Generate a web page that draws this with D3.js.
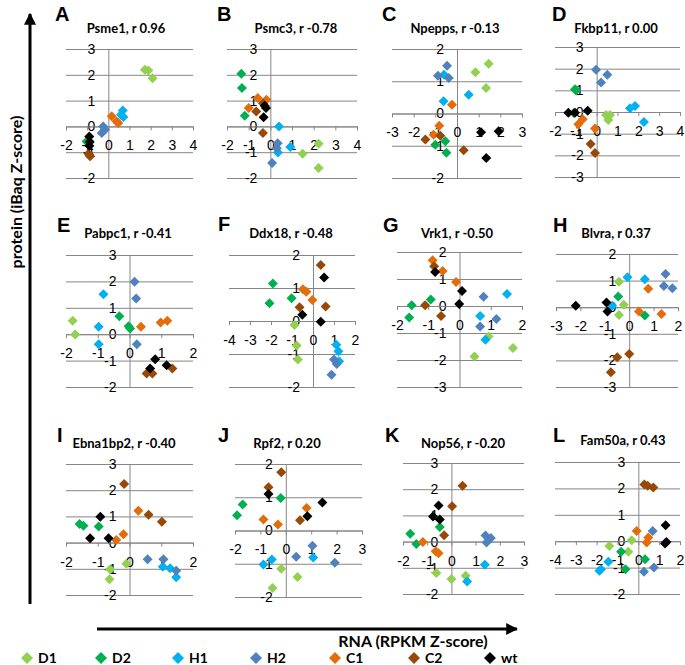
<!DOCTYPE html>
<html><head><meta charset="utf-8">
<script src="https://cdnjs.cloudflare.com/ajax/libs/d3/7.8.5/d3.min.js"></script>
<style>
body{margin:0;background:#fff;}
svg{display:block;font-family:Lato,"Open Sans",sans-serif;}
</style></head>
<body><svg id="c" width="685" height="665"></svg>
<script>
// ---- data ----
const series = ["D1","D2","H1","H2","C1","C2","wt"];
const letters = ["A","B","C","D","E","F","G","H","I","J","K","L"];
const titles = ["Psme1, r 0.96","Psmc3, r -0.78","Npepps, r -0.13","Fkbp11, r 0.00",
  "Pabpc1, r -0.41","Ddx18, r -0.48","Vrk1, r -0.50","Blvra, r 0.37",
  "Ebna1bp2, r -0.40","Rpf2, r 0.20","Nop56, r -0.20","Fam50a, r 0.43"];
const xDomains = [[-2,4],[-2,4],[-3,3],[-2,4],[-2,2],[-4,2],[-2,2],[-3,2],[-2,2],[-2,3],[-2,3],[-4,2]];
const yDomains = [[-2,3],[-2,3],[-2,2],[-3,3],[-2,3],[-2,2],[-3,2],[-3,2],[-2,3],[-2,2],[-2,3],[-2,3]];
const axisLabelY = "protein (iBaq Z-score)";
const axisLabelX = "RNA (RPKM Z-score)";

const dataA = [["D1",1.73,2.2],["D1",1.89,2.17],["D1",2.09,1.87],
 ["D2",-1.02,-0.58],["D2",-0.98,-0.62],["D2",-0.92,-0.56],
 ["H1",0.68,0.62],["H1",0.71,0.36],["H1",0.6,0.45],
 ["H2",-0.24,0.0],["H2",-0.31,-0.26],["H2",-0.16,-0.13],
 ["C1",0.16,0.39],["C1",0.39,0.19],["C1",0.47,0.13],
 ["C2",-0.94,-1.06],["C2",-0.86,-1.16],["C2",-0.9,-1.1],
 ["wt",-0.9,-0.39],["wt",-0.9,-0.75],["wt",-0.88,-0.6]];
const dataB = [["D1",2.23,-0.67],["D1",1.49,-1.06],["D1",2.23,-1.61],
 ["D2",-1.34,2.04],["D2",-1.31,1.49],["D2",-1.18,0.41],
 ["H1",0.4,0.0],["H1",0.92,-0.8],["H1",0.35,-1.01],
 ["H2",0.34,-0.65],["H2",0.08,-1.42],["H2",0.3,-0.85],
 ["C1",-0.58,1.1],["C1",-1.0,0.71],["C1",-0.18,1.03],
 ["C2",-0.65,0.58],["C2",-0.34,0.9],["C2",-0.34,-0.26],
 ["wt",-0.26,0.8],["wt",-0.2,0.71],["wt",-0.31,0.35]];
const dataC = [["D1",0.85,1.28],["D1",1.46,1.54],["D1",1.34,0.79],
 ["D2",-1.0,-0.97],["D2",-0.54,-0.86],["D2",-0.49,-1.22],
 ["H1",-0.6,1.2],["H1",-0.62,0.38],["H1",0.54,0.58],
 ["H2",-0.46,1.48],["H2",-0.88,1.17],["H2",-0.38,1.1],
 ["C1",-0.23,0.27],["C1",-0.82,-0.38],["C1",-1.08,-0.66],
 ["C2",-1.46,-0.81],["C2",-0.77,-0.69],["C2",0.31,-1.14],
 ["wt",1.11,-0.58],["wt",1.92,-0.55],["wt",1.35,-1.38]];
const dataD = [["D1",0.45,-0.14],["D1",0.64,-0.14],["D1",0.56,-0.37],
 ["D2",-1.04,1.05],["D2",-0.99,0.99],["D2",-1.1,-0.05],
 ["H1",1.6,0.17],["H1",1.84,0.28],["H1",2.27,-0.46],
 ["H2",-0.03,1.95],["H2",0.51,1.72],["H2",0.21,1.36],
 ["C1",-0.67,-0.34],["C1",-0.88,-0.56],["C1",-0.08,-0.76],
 ["C2",-0.29,-1.48],["C2",-0.08,-1.89],
 ["wt",-1.36,-0.03],["wt",-1.04,-0.03],["wt",-0.43,0.06]];
const dataE = [["D1",-1.79,0.51],["D1",-1.71,-0.01],
 ["D2",-0.32,0.68],["D2",-0.03,0.3],["D2",0.02,0.22],
 ["H1",-0.82,1.51],["H1",-0.97,0.28],["H1",-0.97,-0.38],
 ["H2",0.16,1.99],["H2",0.21,1.35],["H2",0.23,-0.38],
 ["C1",0.36,0.28],["C1",0.98,0.44],["C1",1.19,0.51],
 ["C2",0.54,-1.49],["C2",0.72,-1.49],["C2",1.35,-1.3],
 ["wt",0.81,-0.95],["wt",0.65,-1.3],["wt",1.17,-1.18]];
const dataF = [["D1",-0.88,-0.12],["D1",-0.78,-0.74],["D1",-0.72,-1.17],
 ["D2",-1.91,1.14],["D2",-2.07,0.54],["D2",-1.02,0.69],
 ["H1",1.11,-0.72],["H1",1.21,-0.92],["H1",1.24,-1.22],
 ["H2",1.0,-1.17],["H2",1.13,-1.3],["H2",0.88,-1.63],
 ["C1",-0.48,0.96],["C1",-0.32,0.89],["C1",-0.03,0.64],
 ["C2",0.37,1.7],["C2",-0.64,0.42],["C2",0.6,0.44],
 ["wt",0.53,1.32],["wt",-0.51,0.19],["wt",0.37,-0.02]];
const dataG = [["D1",0.93,-1.13],["D1",1.71,-1.56],["D1",0.48,-1.87],
 ["D2",-1.53,0.03],["D2",-1.61,-0.43],["D2",-0.92,0.24],
 ["H1",1.52,0.44],["H1",0.66,-0.37],["H1",0.83,-1.25],
 ["H2",0.77,0.34],["H2",1.18,-0.48],["H2",0.66,-0.76],
 ["C1",-0.86,1.69],["C1",-0.54,1.3],["C1",-0.11,0.89],
 ["C2",-0.81,1.47],["C2",-1.1,0.03],["C2",-0.59,-0.37],
 ["wt",-0.78,1.26],["wt",0.08,0.56],["wt",-0.01,0.07]];
const dataH = [["D1",-0.42,0.96],["D1",-0.22,0.09],["D1",-0.42,-0.29],
 ["D2",-0.45,0.4],["D2",0.64,-0.31],
 ["H1",-0.07,1.13],["H1",0.64,1.05],["H1",-0.7,0.05],
 ["H2",1.49,1.25],["H2",1.42,0.8],["H2",1.77,0.71],
 ["C1",0.78,0.69],["C1",0.4,-0.16],["C1",1.32,-0.26],
 ["C2",0.0,-1.76],["C2",-0.49,-1.88],["C2",-0.75,-2.45],
 ["wt",-2.19,0.05],["wt",-0.93,0.18],["wt",-0.89,-0.16]];
const dataI = [["D1",-0.61,-1.02],["D1",-0.63,-1.4],["D1",-0.1,-0.81],
 ["D2",-1.57,0.71],["D2",-1.45,0.64],["D2",-0.97,0.61],
 ["H1",1.05,-0.92],["H1",1.28,-0.98],["H1",1.47,-1.32],
 ["H2",0.57,-0.64],["H2",1.07,-0.64],["H2",1.47,-1.07],
 ["C1",0.28,1.22],["C1",-0.19,0.32],["C1",-0.42,0.1],
 ["C2",-0.17,2.24],["C2",0.6,1.06],["C2",1.02,0.8],
 ["wt",-0.92,0.99],["wt",-1.24,0.17],["wt",-0.66,0.17]];
const dataJ = [["D1",-0.18,-1.15],["D1",0.46,-1.4],["D1",-0.52,-1.73],
 ["D2",-1.7,0.78],["D2",-1.92,0.46],["D2",-0.2,0.98],
 ["H1",-0.55,-0.87],["H1",-0.88,-1.02],["H1",1.08,-0.81],
 ["H2",1.05,-0.46],["H2",0.41,-0.79],["H2",1.93,-0.97],
 ["C1",-0.88,0.33],["C1",-0.31,0.18],["C1",0.82,0.68],
 ["C2",-0.18,1.75],["C2",-0.68,1.3],["C2",0.56,0.31],
 ["wt",-0.68,1.1],["wt",0.85,0.43],["wt",1.44,0.84]];
const dataK = [["D1",-0.62,-1.2],["D1",0.0,-1.43],["D1",0.59,-1.3],
 ["D2",-0.48,0.56],["D2",-1.7,0.3],["D2",-1.45,-0.09],
 ["H1",1.38,-0.88],["H1",0.65,-1.52],
 ["H2",1.41,0.23],["H2",1.63,0.14],["H2",1.45,-0.03],
 ["C1",-1.18,-0.02],["C1",-0.65,-0.37],["C1",-0.53,-0.44],
 ["C2",0.46,2.13],["C2",0.03,1.35],["C2",-0.3,0.24],
 ["wt",-0.53,1.38],["wt",-0.76,0.96],["wt",-0.48,0.84]];
const dataL = [["D1",-1.39,-0.18],["D1",-0.32,0.04],["D1",-0.48,-0.4],
 ["D2",-0.83,-0.4],["D2",-0.62,-1.06],["D2",0.32,-0.68],
 ["H1",-1.44,-0.78],["H1",-1.87,-1.12],["H1",-1.79,-1.06],
 ["H2",0.69,0.39],["H2",0.27,-1.16],["H2",0.75,-1.0],
 ["C1",-0.08,0.39],["C1",0.48,0.14],["C1",0.4,-0.05],
 ["C2",0.29,2.15],["C2",0.72,2.03],["C2",0.45,2.1],
 ["wt",1.31,0.6],["wt",1.28,-0.09],["wt",1.35,-0.03]];
const panelData = [dataA,dataB,dataC,dataD,dataE,dataF,dataG,dataH,dataI,dataJ,dataK,dataL];

// ---- layout & style (not data) ----
const colors = {D1:"#92D050",D2:"#00B050",H1:"#00B0F0",H2:"#4F81BD",C1:"#E46C0A",C2:"#984807",wt:"#000000"};
// plot rects: [left,right,top,bottom]
const rects = [[66,193,49,178],[227,357,49,178],[392,522,49,178],[555,680,47,177],
  [66,193,255,387],[229,355,255,387],[397,522,252,387],[556,678,254,387],
  [66,193,464,595],[235,362,464,597],[403,524,463,594],[555,680,462,594]];
// title center x, baseline y
const titlePos = [[126,33],[296,33],[455,33],[616,33],[128,238],[291,238],[457,238],[616,238],
  [124,448],[287,448],[463,448],[623,445]];
// letter left x, baseline y
const letterPos = [[55,21],[217,21],[382,21],[552,21],[57,232],[218,231],[383,232],[553,232],
  [57,442],[218,442],[385,442],[553,442]];
const legendX = [27,101,178,256,335,414,490];

const svg = d3.select("#c");
const grey = "#868686";
const diamond = (s)=>`M0,${-s}L${s},0L0,${s}L${-s},0Z`;

panelData.forEach((pts,i)=>{
  const [l,r,t,b] = rects[i];
  const x = d3.scaleLinear().domain(xDomains[i]).range([l,r]);
  const y = d3.scaleLinear().domain(yDomains[i]).range([b,t]);
  const g = svg.append("g");
  const yt = d3.range(yDomains[i][0], yDomains[i][1]+1);
  const xt = d3.range(xDomains[i][0], xDomains[i][1]+1);
  const grid = g.append("g").attr("transform",`translate(${l},0)`)
    .call(d3.axisLeft(y).tickValues(yt).tickSize(-(r-l)).tickFormat(""));
  grid.select(".domain").remove();
  grid.selectAll("line").attr("stroke",grey).attr("stroke-width",1);
  const ya = g.append("g").attr("transform",`translate(${x(0)},0)`)
    .call(d3.axisLeft(y).tickValues(yt).tickSize(0).tickPadding(13).tickFormat(d=>String(d)));
  ya.select(".domain").attr("stroke",grey);
  ya.selectAll("text").attr("font-size",14).attr("fill","#000");
  const xa = g.append("g").attr("transform",`translate(0,${y(0)})`)
    .call(d3.axisBottom(x).tickValues(xt).tickSize(4).tickSizeOuter(0).tickPadding(10).tickFormat(d=>String(d)));
  xa.select(".domain").attr("stroke",grey);
  xa.selectAll("line").attr("stroke",grey);
  xa.selectAll("text").attr("font-size",14).attr("fill","#000");
  const ordered = series.flatMap(s=>pts.filter(p=>p[0]===s));
  g.selectAll("path.pt").data(ordered).join("path").attr("class","pt")
    .attr("d",diamond(5))
    .attr("transform",p=>`translate(${x(p[1])},${y(p[2])})`)
    .attr("fill",p=>colors[p[0]]);
  g.append("text").attr("x",titlePos[i][0]).attr("y",titlePos[i][1]).attr("text-anchor","middle")
    .attr("font-size",13).attr("font-weight","bold").text(titles[i]);
  g.append("text").attr("x",letterPos[i][0]).attr("y",letterPos[i][1])
    .attr("font-size",20).attr("font-weight","bold").style("font-family","Arial, Liberation Sans").text(letters[i]);
});

const defs = svg.append("defs");
defs.append("marker").attr("id","ah").attr("viewBox","0 0 10 10").attr("refX",9).attr("refY",5)
  .attr("markerWidth",4).attr("markerHeight",4).attr("orient","auto")
  .append("path").attr("d","M0,0L10,5L0,10Z").attr("fill","#000");
svg.append("line").attr("x1",30).attr("y1",604).attr("x2",30).attr("y2",14)
  .attr("stroke","#000").attr("stroke-width",3).attr("marker-end","url(#ah)");
svg.append("line").attr("x1",97).attr("y1",629).attr("x2",517).attr("y2",629)
  .attr("stroke","#000").attr("stroke-width",3).attr("marker-end","url(#ah)");
svg.append("text").attr("transform","translate(22,192) rotate(-90)").attr("text-anchor","middle")
  .attr("font-size",16).attr("font-weight","bold").text(axisLabelY);
svg.append("text").attr("x",413).attr("y",647).attr("text-anchor","middle")
  .attr("font-size",16).attr("font-weight","bold").text(axisLabelX);

series.forEach((s,k)=>{
  svg.append("path").attr("d",diamond(6)).attr("transform",`translate(${legendX[k]},658)`).attr("fill",colors[s]);
  svg.append("text").attr("x",legendX[k]+11).attr("y",663).attr("font-size",14).attr("font-weight","bold").text(s);
});
</script></body></html>
